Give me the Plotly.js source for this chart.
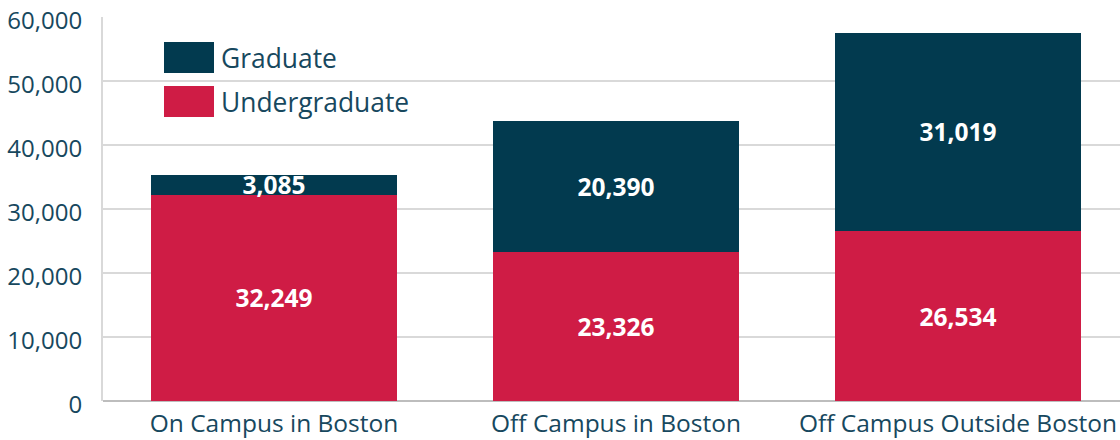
<!DOCTYPE html>
<html>
<head>
<meta charset="utf-8">
<script src="https://cdn.plot.ly/plotly-3.0.1.min.js"></script>
<style>html,body{margin:0;padding:0;background:#fff;}#chart{width:1120px;height:440px;}</style>
</head>
<body>
<div id="chart"></div>
<script>
const categories = ["On Campus in Boston", "Off Campus in Boston", "Off Campus Outside Boston"];
const undergraduate = [32249, 23326, 26534];
const graduate = [3085, 20390, 31019];
const seriesNames = ["Graduate", "Undergraduate"];
const yTicks = [0, 10000, 20000, 30000, 40000, 50000, 60000];
const yTickLabels = ["0", "10,000", "20,000", "30,000", "40,000", "50,000", "60,000"];

const colGrad = "#023a4f";
const colUnder = "#cf1c45";
const textCol = "#17485e";
const fmt = v => v.toLocaleString("en-US");

const traces = [
  {
    type: "bar", name: seriesNames[1], x: categories, y: undergraduate,
    marker: {color: colUnder},
    text: undergraduate.map(fmt), textposition: "inside", insidetextanchor: "middle",
    constraintext: "none",
    textfont: {family: "Open Sans", size: 24.5, color: "#ffffff", weight: "bold"},
    hoverinfo: "skip", showlegend: false
  },
  {
    type: "bar", name: seriesNames[0], x: categories, y: graduate,
    marker: {color: colGrad},
    text: graduate.map(fmt), textposition: "inside", insidetextanchor: "middle",
    constraintext: "none",
    textfont: {family: "Open Sans", size: 24.5, color: "#ffffff", weight: "bold"},
    hoverinfo: "skip", showlegend: false
  }
];

const L = 103, R = 1120, T = 17, B = 401;
const px = x => (x - L) / (R - L);
const py = y => (B - y) / (B - T);

const layout = {
  width: 1120, height: 440,
  margin: {l: L, r: 0, t: T, b: 440 - B, pad: 0},
  barmode: "stack",
  bargap: 0.278,
  paper_bgcolor: "#ffffff", plot_bgcolor: "#ffffff",
  font: {family: "Open Sans", color: textCol, size: 24},
  uniformtext: {mode: "show", minsize: 24.5},
  showlegend: false,
  xaxis: {
    type: "category", range: [-0.5, 2.4737], fixedrange: true,
    showgrid: false, showline: false, zeroline: false,
    ticks: "outside", ticklen: 1, tickcolor: "rgba(0,0,0,0)",
    tickfont: {family: "Open Sans", size: 24.5, color: textCol}
  },
  yaxis: {
    range: [0, 60000], tickvals: yTicks, ticktext: yTickLabels,
    showgrid: true, gridcolor: "#d9d9d9", gridwidth: 2,
    zeroline: true, zerolinecolor: "#bdbdbd", zerolinewidth: 2,
    showline: true, linecolor: "#d9d9d9", linewidth: 2,
    ticks: "outside", ticklen: 14, tickcolor: "rgba(0,0,0,0)",
    ticklabelshift: 4,
    tickfont: {family: "Open Sans", size: 24, color: textCol}
  },
  shapes: [
    {type: "rect", xref: "paper", yref: "paper", x0: px(164), x1: px(214), y0: py(73), y1: py(42),
     fillcolor: colGrad, line: {width: 0}},
    {type: "rect", xref: "paper", yref: "paper", x0: px(164), x1: px(214), y0: py(117), y1: py(86),
     fillcolor: colUnder, line: {width: 0}}
  ],
  annotations: [
    {xref: "paper", yref: "paper", x: px(219), y: py(57.5), xanchor: "left", yanchor: "middle",
     text: seriesNames[0], showarrow: false, font: {family: "Open Sans", size: 26.4, color: textCol}},
    {xref: "paper", yref: "paper", x: px(219), y: py(101.5), xanchor: "left", yanchor: "middle",
     text: seriesNames[1], showarrow: false, font: {family: "Open Sans", size: 26.4, color: textCol}}
  ]
};

Plotly.newPlot("chart", traces, layout, {displayModeBar: false, staticPlot: true});
</script>
</body>
</html>
